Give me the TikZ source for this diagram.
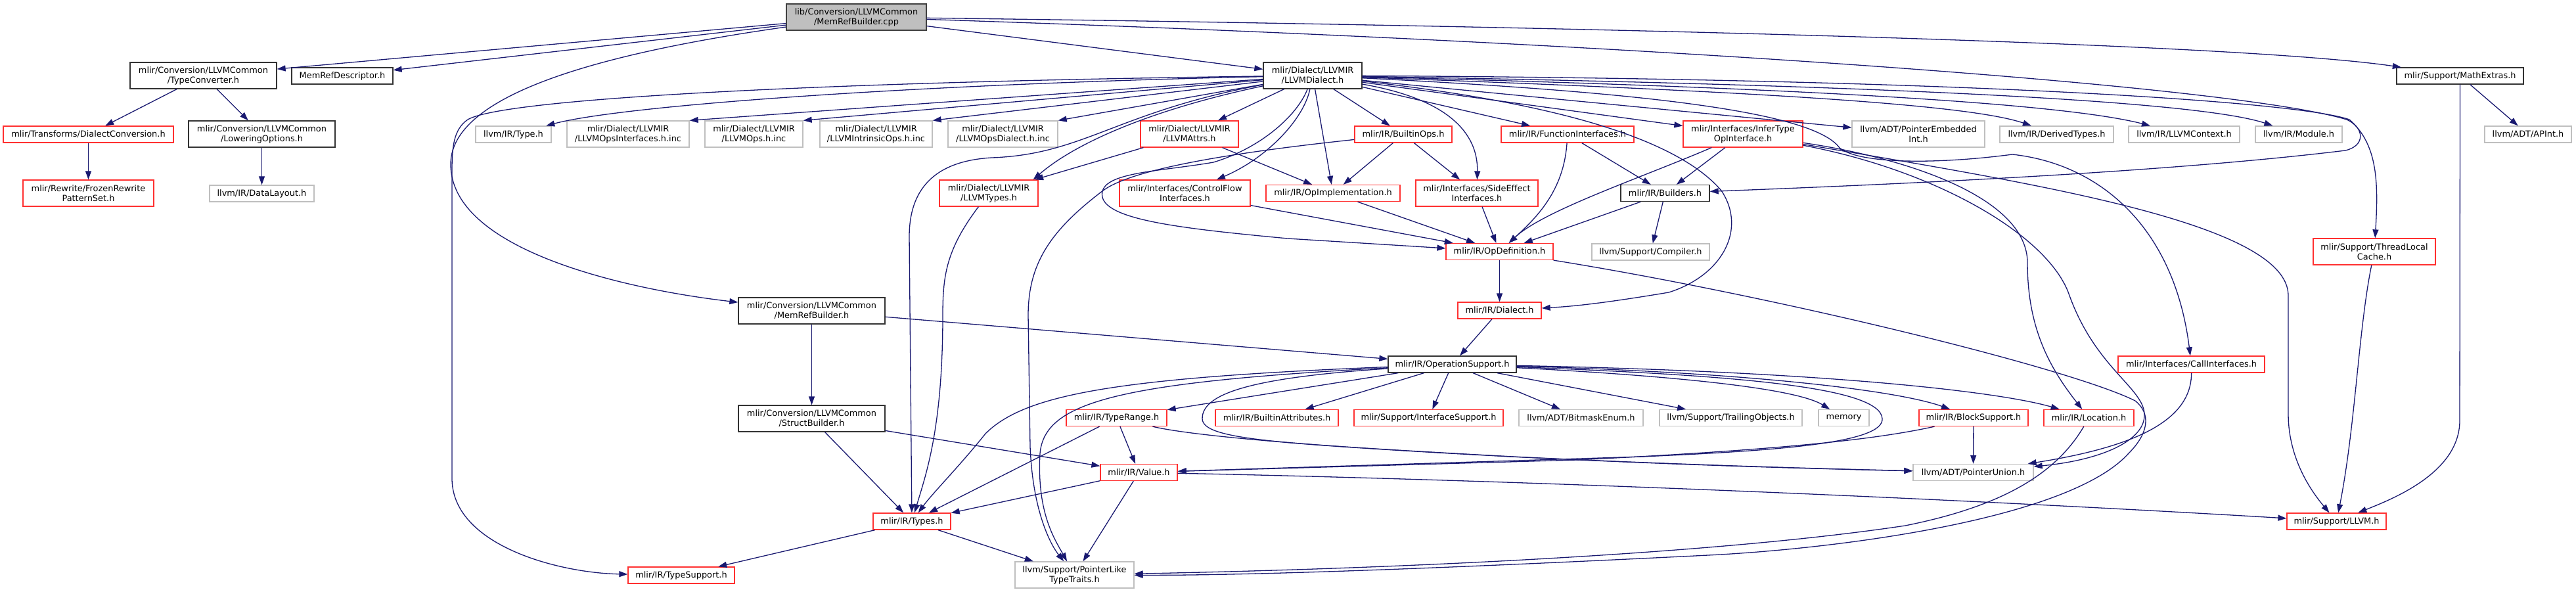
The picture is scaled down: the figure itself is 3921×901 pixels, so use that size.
\documentclass[tikz,border=0pt]{standalone}
\usepackage{fontspec}
\setmainfont{DejaVu Sans}
\usepackage{xcolor}
\usepackage{tikz}
\usetikzlibrary{arrows.meta}

\definecolor{edgeblue}{HTML}{191970}
\definecolor{truncred}{HTML}{FF3030}
\definecolor{sysgrey}{HTML}{BFBFBF}
\definecolor{curgrey}{HTML}{BFBFBF}

\tikzset{
  incbox/.style={draw, fill=white, line width=1.3pt, inner sep=0pt, align=center,
    font=\fontsize{12.9}{15}\selectfont},
  hdr/.style={incbox, draw=black!80},
  trunc/.style={incbox, draw=truncred},
  sys/.style={incbox, draw=sysgrey},
  cur/.style={incbox, draw=black!75, fill=curgrey},
  inc/.style={draw=edgeblue, line width=1.3pt, -{Triangle[length=13pt,width=9pt]}},
}

\begin{document}
\begin{tikzpicture}[x=1pt,y=-1pt]
	\useasboundingbox (0,0) rectangle (3921,901);

	% source file and first level
	\node[cur, minimum width=213pt, minimum height=40pt] (cpp) at (1303.5,26) {lib/Conversion/LLVMCommon\\/MemRefBuilder.cpp};
	\node[hdr, minimum width=223pt, minimum height=40pt] (tconv) at (309.5,115) {mlir/Conversion/LLVMCommon\\/TypeConverter.h};
	\node[hdr, minimum width=154pt, minimum height=25pt] (mrdesc) at (521,115.5) {MemRefDescriptor.h};
	\node[hdr, minimum width=150pt, minimum height=40pt] (llvmdialect) at (1998,115) {mlir/Dialect/LLVMIR\\/LLVMDialect.h};
	\node[hdr, minimum width=193pt, minimum height=25pt] (mathextras) at (3744.5,115.5) {mlir/Support/MathExtras.h};

	% second level
	\node[trunc, minimum width=259pt, minimum height=25pt] (dconv) at (134.5,204.5) {mlir/Transforms/DialectConversion.h};
	\node[hdr, minimum width=223pt, minimum height=40pt] (lowering) at (398.5,204) {mlir/Conversion/LLVMCommon\\/LoweringOptions.h};
	\node[sys, minimum width=115pt, minimum height=25pt] (typeh) at (781.5,204.5) {llvm/IR/Type.h};
	\node[sys, minimum width=186pt, minimum height=40pt] (opsif) at (956,204) {mlir/Dialect/LLVMIR\\/LLVMOpsInterfaces.h.inc};
	\node[sys, minimum width=149pt, minimum height=40pt] (opsinc) at (1147.5,204) {mlir/Dialect/LLVMIR\\/LLVMOps.h.inc};
	\node[sys, minimum width=171pt, minimum height=40pt] (intrinsic) at (1333.5,204) {mlir/Dialect/LLVMIR\\/LLVMIntrinsicOps.h.inc};
	\node[sys, minimum width=167pt, minimum height=40pt] (opsdialect) at (1526.5,204) {mlir/Dialect/LLVMIR\\/LLVMOpsDialect.h.inc};
	\node[trunc, minimum width=149pt, minimum height=40pt] (attrs) at (1810.5,204) {mlir/Dialect/LLVMIR\\/LLVMAttrs.h};
	\node[trunc, minimum width=148pt, minimum height=25pt] (builtinops) at (2136,204.5) {mlir/IR/BuiltinOps.h};
	\node[trunc, minimum width=202pt, minimum height=25pt] (funcif) at (2386,204.5) {mlir/IR/FunctionInterfaces.h};
	\node[trunc, minimum width=182pt, minimum height=40pt] (infertype) at (2653,204) {mlir/Interfaces/InferType\\OpInterface.h};
	\node[sys, minimum width=202pt, minimum height=40pt] (ptrembedded) at (2920,204) {llvm/ADT/PointerEmbedded\\Int.h};
	\node[sys, minimum width=173pt, minimum height=25pt] (derived) at (3130.5,204.5) {llvm/IR/DerivedTypes.h};
	\node[sys, minimum width=169pt, minimum height=25pt] (llvmctx) at (3324.5,204.5) {llvm/IR/LLVMContext.h};
	\node[sys, minimum width=132pt, minimum height=25pt] (module) at (3499,204.5) {llvm/IR/Module.h};
	\node[sys, minimum width=132pt, minimum height=25pt] (apint) at (3848,204.5) {llvm/ADT/APInt.h};

	% third level
	\node[trunc, minimum width=199pt, minimum height=40pt] (frozen) at (134.5,294) {mlir/Rewrite/FrozenRewrite\\PatternSet.h};
	\node[sys, minimum width=159pt, minimum height=25pt] (datalayout) at (398.5,294.5) {llvm/IR/DataLayout.h};
	\node[trunc, minimum width=150pt, minimum height=40pt] (llvmtypes) at (1505,294) {mlir/Dialect/LLVMIR\\/LLVMTypes.h};
	\node[trunc, minimum width=199pt, minimum height=40pt] (ctrlflow) at (1803.5,294) {mlir/Interfaces/ControlFlow\\Interfaces.h};
	\node[trunc, minimum width=204pt, minimum height=25pt] (opimpl) at (2029,294) {mlir/IR/OpImplementation.h};
	\node[trunc, minimum width=186pt, minimum height=40pt] (sideeffect) at (2248,294) {mlir/Interfaces/SideEffect\\Interfaces.h};
	\node[hdr, minimum width=135pt, minimum height=25pt] (builders) at (2534.5,294) {mlir/IR/Builders.h};

	% fourth level and below
	\node[trunc, minimum width=163pt, minimum height=25pt] (opdef) at (2282.5,383) {mlir/IR/OpDefinition.h};
	\node[sys, minimum width=179pt, minimum height=25pt] (compiler) at (2512.5,383.5) {llvm/Support/Compiler.h};
	\node[trunc, minimum width=186pt, minimum height=40pt] (threadlocal) at (3614,383) {mlir/Support/ThreadLocal\\Cache.h};

	\node[hdr, minimum width=223pt, minimum height=40pt] (mrbuilder) at (1235.5,473) {mlir/Conversion/LLVMCommon\\/MemRefBuilder.h};
	\node[trunc, minimum width=127pt, minimum height=25pt] (dialect) at (2282.5,472.5) {mlir/IR/Dialect.h};

	\node[hdr, minimum width=195pt, minimum height=25pt] (opsupport) at (2210.5,554.5) {mlir/IR/OperationSupport.h};
	\node[trunc, minimum width=223pt, minimum height=25pt] (callif) at (3335.5,554.5) {mlir/Interfaces/CallInterfaces.h};

	\node[hdr, minimum width=223pt, minimum height=40pt] (structbuilder) at (1235.5,637) {mlir/Conversion/LLVMCommon\\/StructBuilder.h};
	\node[trunc, minimum width=153pt, minimum height=25pt] (typerange) at (1699.5,636) {mlir/IR/TypeRange.h};
	\node[trunc, minimum width=187pt, minimum height=25pt] (builtinattr) at (1943.5,636) {mlir/IR/BuiltinAttributes.h};
	\node[trunc, minimum width=227pt, minimum height=25pt] (ifsupport) at (2174.5,636) {mlir/Support/InterfaceSupport.h};
	\node[sys, minimum width=189pt, minimum height=25pt] (bitmask) at (2406.5,636) {llvm/ADT/BitmaskEnum.h};
	\node[sys, minimum width=217pt, minimum height=25pt] (trailing) at (2634.5,636) {llvm/Support/TrailingObjects.h};
	\node[sys, minimum width=77pt, minimum height=25pt] (memory) at (2806.5,636) {memory};
	\node[trunc, minimum width=166pt, minimum height=25pt] (blocksupport) at (3004,636) {mlir/IR/BlockSupport.h};
	\node[trunc, minimum width=137pt, minimum height=25pt] (location) at (3179.5,636) {mlir/IR/Location.h};

	\node[trunc, minimum width=117pt, minimum height=25pt] (value) at (1733.5,719) {mlir/IR/Value.h};
	\node[sys, minimum width=183pt, minimum height=25pt] (ptrunion) at (3003.5,719) {llvm/ADT/PointerUnion.h};

	\node[trunc, minimum width=118pt, minimum height=25pt] (types) at (1388,793.5) {mlir/IR/Types.h};
	\node[trunc, minimum width=151pt, minimum height=25pt] (llvmh) at (3556.5,793.5) {mlir/Support/LLVM.h};

	\node[trunc, minimum width=162pt, minimum height=25pt] (tsupport) at (1037,875.5) {mlir/IR/TypeSupport.h};
	\node[sys, minimum width=181pt, minimum height=40pt] (ptrlike) at (1635.5,875) {llvm/Support/PointerLike\\TypeTraits.h};

	% includes of the source file
	\draw[inc] (cpp) -- (tconv);
	\draw[inc] (cpp) -- (mrdesc);
	\draw[inc] (cpp) -- (llvmdialect);
	\draw[inc] (cpp) .. controls (850,90) and (686,160) .. (686,250) .. controls (686,380) and (950,440) .. (mrbuilder);
	\draw[inc] (cpp) .. controls (2400,40) and (3400,65) .. (mathextras);
	\draw[inc] (cpp) .. controls (2500,65) and (3400,130) .. (3572,182) .. controls (3600,195) and (3600,222) .. (3570,229) .. controls (3300,262) and (2900,280) .. (builders);

	% LLVMDialect.h
	\draw[inc] (llvmdialect) .. controls (1400,128) and (950,160) .. (typeh);
	\draw[inc] (llvmdialect) -- (opsif.north east);
	\draw[inc] (llvmdialect) -- (opsinc.north east);
	\draw[inc] (llvmdialect) -- (intrinsic.north east);
	\draw[inc] (llvmdialect) -- (opsdialect.north east);
	\draw[inc] (llvmdialect) .. controls (1700,170) and (1650,235) .. (1510,240) .. controls (1420,245) and (1384,290) .. (1384,360) -- (types);
	\draw[inc] (llvmdialect) .. controls (1760,165) and (1640,215) .. ([xshift=-8pt]llvmtypes.north east);
	\draw[inc] (llvmdialect) -- (attrs);
	\draw[inc] (llvmdialect) .. controls (1985,180) and (1930,240) .. (ctrlflow);
	\draw[inc] (llvmdialect) .. controls (1975,175) and (1920,225) .. (1847,247) .. controls (1760,262) and (1670,262) .. (1678,300) .. controls (1686,335) and (1800,348) .. (1960,363) -- (opdef);
	\draw[inc] (llvmdialect) -- (opimpl);
	\draw[inc] (llvmdialect) -- (builtinops);
	\draw[inc] (llvmdialect) .. controls (2200,150) and (2250,200) .. (sideeffect);
	\draw[inc] (llvmdialect) -- (funcif);
	\draw[inc] (llvmdialect) -- (infertype);
	\draw[inc] (llvmdialect) -- (ptrembedded);
	\draw[inc] (llvmdialect) .. controls (2700,140) and (3000,160) .. (derived);
	\draw[inc] (llvmdialect) .. controls (2800,135) and (3150,160) .. (llvmctx);
	\draw[inc] (llvmdialect) .. controls (2900,130) and (3350,155) .. (module);
	\draw[inc] (llvmdialect) .. controls (3000,120) and (3500,155) .. (3576,182) .. controls (3620,220) and (3620,280) .. (threadlocal);
	\draw[inc] (llvmdialect) .. controls (2400,160) and (2560,220) .. (2620,290) .. controls (2660,350) and (2620,420) .. (2540,445) .. controls (2450,460) and (2400,466) .. (dialect);
	\draw[inc] (llvmdialect) .. controls (2500,140) and (2760,170) .. (2800,225) .. controls (2830,250) and (2950,250) .. (3063,235) .. controls (3200,250) and (3310,350) .. (callif);
	\draw[inc] (llvmdialect) .. controls (1300,124) and (770,148) .. (712,182) .. controls (690,197) and (688,225) .. (688,260) -- (688,730) .. controls (690,830) and (850,872) .. (tsupport);

	% second level includes
	\draw[inc] (tconv) -- (dconv);
	\draw[inc] (tconv) -- (lowering);
	\draw[inc] (dconv) -- (frozen);
	\draw[inc] (lowering) -- (datalayout);
	\draw[inc] (attrs) -- (llvmtypes);
	\draw[inc] (attrs) -- (opimpl);
	\draw[inc] (builtinops) -- (opimpl);
	\draw[inc] (builtinops) -- (sideeffect);
	\draw[inc] (builtinops) .. controls (1850,235) and (1720,260) .. (1679,290) .. controls (1600,350) and (1565,400) .. (1565,480) -- (1568,680) .. controls (1572,780) and (1600,830) .. (ptrlike);
	\draw[inc] (funcif) .. controls (2380,290) and (2340,330) .. (opdef);
	\draw[inc] (funcif) -- (builders);
	\draw[inc] (infertype) .. controls (2500,270) and (2350,320) .. (opdef);
	\draw[inc] (infertype) -- (builders);
	\draw[inc] (infertype) .. controls (2900,240) and (3086,300) .. (3086,400) .. controls (3086,500) and (3120,560) .. (location);
	\draw[inc] (infertype) .. controls (3100,280) and (3483,340) .. (3483,450) -- (3483,630) .. controls (3483,700) and (3520,750) .. (llvmh);
	\draw[inc] (infertype) .. controls (2950,260) and (3120,360) .. (3150,450) .. controls (3190,560) and (3262,590) .. (3264,630) .. controls (3266,670) and (3200,700) .. (ptrunion);

	% third level includes
	\draw[inc] (ctrlflow) -- (opdef);
	\draw[inc] (opimpl) -- (opdef);
	\draw[inc] (sideeffect) -- (opdef);
	\draw[inc] (builders) -- (opdef);
	\draw[inc] (builders) -- (compiler);
	\draw[inc] (llvmtypes) .. controls (1440,380) and (1435,420) .. (1435,480) .. controls (1435,650) and (1410,720) .. (types);
	\draw[inc] (mathextras) -- (apint);
	\draw[inc] (mathextras) -- (3744,640) .. controls (3744,720) and (3640,760) .. (llvmh);
	\draw[inc] (threadlocal) .. controls (3590,500) and (3585,650) .. (llvmh);

	\draw[inc] (opdef) -- (dialect);
	\draw[inc] (opdef) .. controls (2700,450) and (3150,560) .. (3250,610) .. controls (3275,630) and (3270,660) .. (3240,690) .. controls (3150,790) and (2800,835) .. (2600,845) .. controls (2200,865) and (1900,876) .. (ptrlike);
	\draw[inc] (dialect) -- (opsupport);
	\draw[inc] (mrbuilder) -- (structbuilder);
	\draw[inc] (mrbuilder) -- (opsupport);

	% OperationSupport.h
	\draw[inc] (opsupport) -- (typerange);
	\draw[inc] (opsupport) -- (builtinattr);
	\draw[inc] (opsupport) -- (ifsupport);
	\draw[inc] (opsupport) -- (bitmask);
	\draw[inc] (opsupport) -- (trailing);
	\draw[inc] (opsupport) .. controls (2600,575) and (2740,595) .. (memory);
	\draw[inc] (opsupport) .. controls (2700,568) and (2900,598) .. (blocksupport);
	\draw[inc] (opsupport) .. controls (2800,566) and (3050,598) .. (location);
	\draw[inc] (opsupport) .. controls (2600,570) and (2862,585) .. (2865,637) .. controls (2868,675) and (2700,686) .. (2500,695) -- (value);
	\draw[inc] (opsupport) .. controls (1900,575) and (1830,600) .. (1830,637) .. controls (1830,670) and (1950,675) .. (2300,695) .. controls (2600,710) and (2800,714) .. (ptrunion);
	\draw[inc] (opsupport) .. controls (1700,575) and (1560,600) .. (1500,660) .. controls (1460,710) and (1420,750) .. (types);
	\draw[inc] (opsupport) .. controls (1700,582) and (1590,612) .. (1583,690) .. controls (1578,780) and (1605,820) .. (ptrlike);

	\draw[inc] (callif) .. controls (3336,640) and (3250,680) .. (ptrunion);

	% lower levels
	\draw[inc] (structbuilder) -- (types);
	\draw[inc] (structbuilder) -- (value);
	\draw[inc] (typerange) -- (types);
	\draw[inc] (typerange) -- (value);
	\draw[inc] (typerange) .. controls (1850,672) and (2300,702) .. (ptrunion);
	\draw[inc] (blocksupport) -- (ptrunion);
	\draw[inc] (blocksupport) .. controls (2850,670) and (2700,685) .. (2400,700) -- (value);
	\draw[inc] (location) .. controls (3130,720) and (3050,770) .. (2900,800) .. controls (2600,845) and (2100,866) .. (ptrlike);
	\draw[inc] (value) -- (types);
	\draw[inc] (value) -- (ptrlike);
	\draw[inc] (value) .. controls (2500,735) and (3200,772) .. (llvmh);
	\draw[inc] (types) -- (tsupport);
	\draw[inc] (types) -- (ptrlike);
\end{tikzpicture}
\end{document}
